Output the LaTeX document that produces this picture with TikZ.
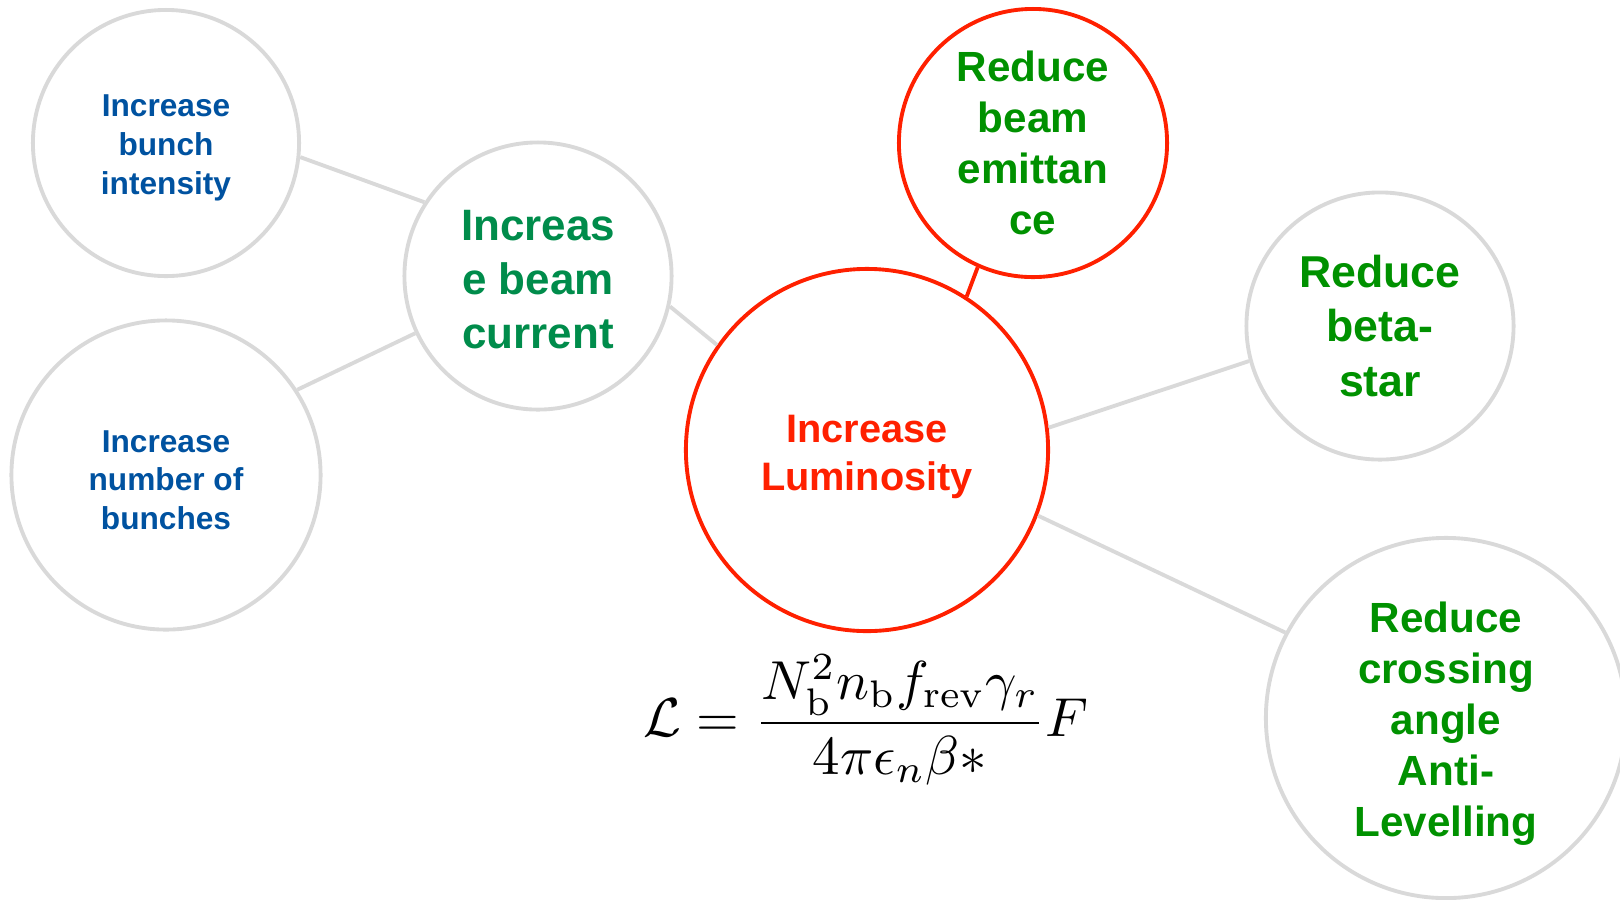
\documentclass[tikz,border=0pt]{standalone}
\usepackage[no-math]{fontspec}
\newfontfamily\arialfont{Liberation Sans}
\usepackage{amsmath,amssymb}
\definecolor{lumired}{RGB}{255,32,0}
\definecolor{ringgray}{RGB}{217,217,217}
\definecolor{bunchblue}{RGB}{0,82,160}
\definecolor{curgreen}{RGB}{0,140,75}
\definecolor{redgreen}{RGB}{0,145,0}

\begin{document}
\begin{tikzpicture}[x=0.01cm,y=-0.01cm,
  ring/.style={circle,draw=ringgray,line width=1.1pt,inner sep=0pt,align=center},
  hot/.style={circle,draw=lumired,line width=1.1pt,inner sep=0pt,align=center},
  small/.style={font=\arialfont\bfseries\fontsize{9}{11}\selectfont,text=bunchblue},
  big/.style={font=\arialfont\bfseries\fontsize{12}{14.5}\selectfont,text=redgreen},
  link/.style={ringgray,line width=1.1pt},
]
\useasboundingbox (0,0) rectangle (1620,899);

% ---- Left: beam current branch ----
\node[ring,small,minimum size=2.66cm] (bunchint) at (166,143) {\rule{0pt}{9pt}Increase\\bunch\\intensity};
\node[ring,small,minimum size=3.09cm] (nbunch) at (166,475) {\rule{0pt}{9pt}Increase\\number of\\bunches};
\node[ring,big,minimum size=2.67cm,text=curgreen,
      font=\arialfont\bfseries\fontsize{12.5}{15.3}\selectfont] (beamcur) at (538,276) {\rule{0pt}{10.5pt}Increas\\e beam\\current};
\draw[link] (bunchint.-6) -- (beamcur.147);
\draw[link] (nbunch.33) -- (beamcur.205);

% ---- Centre: luminosity ----
\node[hot,minimum size=3.62cm,text=lumired,
      font=\arialfont\bfseries\fontsize{11.3}{13.8}\selectfont] (lumi) at (867,450) {\rule{0pt}{11.6pt}Increase\\Luminosity};
\draw[link] (beamcur.-13) -- (lumi.145);

% ---- Right: reduce branch ----
\node[hot,big,minimum size=2.68cm] (emit) at (1033,143) {Reduce\\beam\\emittan\\ce};
\node[ring,big,minimum size=2.67cm,
      font=\arialfont\bfseries\fontsize{12.7}{15.4}\selectfont] (betastar) at (1380,326) {Reduce\\beta-\\star};
\node[ring,big,minimum size=3.6cm] (xangle) at (1446,718) {\rule{0pt}{11.8pt}Reduce\\crossing\\angle\\Anti-\\Levelling};
\draw[lumired,line width=1.1pt] (emit.246) -- (lumi.57);
\draw[link] (lumi.7) -- (betastar.195);
\draw[link] (lumi.-21) -- (xangle.152);

% formula
\node (lumiform) at (866,720) {\scalebox{1.56}{$\displaystyle
  \mathcal{L}=\frac{N_\mathrm{b}^2 n_\mathrm{b} f_\mathrm{rev}\gamma_r}{4\pi\epsilon_n\beta*}F$}};
\end{tikzpicture}
\end{document}
